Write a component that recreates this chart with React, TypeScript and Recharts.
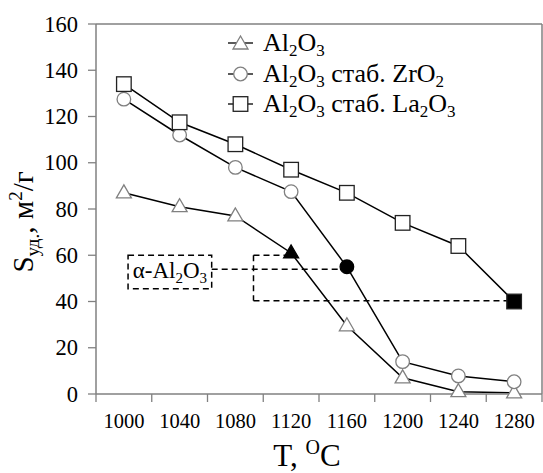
import React from "react";
import {
  LineChart, Line, XAxis, YAxis, ReferenceLine, ReferenceArea,
} from "recharts";

// температура прокаливания, °C
const temps = [1000, 1040, 1080, 1120, 1160, 1200, 1240, 1280];
// удельная поверхность, м2/г
const sAl2O3 = [87, 81, 77, 61, 29.5, 7, 1, 0.5];
const sAlZr = [127.5, 112, 98, 87.5, 55, 14, 7.8, 5.3];
const sAlLa = [134, 117.5, 108, 97, 87, 74, 64, 40];

// точка появления α-Al2O3 (залитый маркер)
const alphaAl = 1120;
const alphaZr = 1160;
const alphaLa = 1280;

const xTickMarks = [980, 1020, 1060, 1100, 1140, 1180, 1220, 1260, 1300];
const yTicks = [0, 20, 40, 60, 80, 100, 120, 140, 160];

// пунктирные выноски (в единицах данных)
const alphaBox = { x1: 1003, x2: 1063, y1: 45.5, y2: 60 };
const leaderZr = [{ x: 1063, y: 54 }, { x: 1160, y: 54 }];
const bracketTop = [{ x: 1093, y: 60 }, { x: 1118, y: 60 }];
const bracketSide = [{ x: 1093, y: 60 }, { x: 1093, y: 40.3 }];
const bracketBottom = [{ x: 1093, y: 40.3 }, { x: 1280, y: 40.3 }];

const data = temps.map((t, i) => ({ t, al: sAl2O3[i], zr: sAlZr[i], la: sAlLa[i] }));

const FONT = '"Liberation Serif"';
const AXIS = "#808080";
const DASH = "6 4";

type Shape = "tri" | "circ" | "sq";

function Marker({ shape, cx, cy, filled }: { shape: Shape; cx: number; cy: number; filled: boolean }) {
  const fill = filled ? "#000" : "#fff";
  if (shape === "tri") {
    return (
      <polygon points={`${cx},${cy - 8} ${cx - 7.5},${cy + 5} ${cx + 7.5},${cy + 5}`}
        fill={fill} stroke={filled ? "#000" : AXIS} strokeWidth={1.3} />
    );
  }
  if (shape === "circ") {
    return <circle cx={cx} cy={cy} r={6.8} fill={fill} stroke={filled ? "#000" : AXIS} strokeWidth={1.3} />;
  }
  return <rect x={cx - 7.3} y={cy - 7.3} width={14.6} height={14.6} fill={fill} stroke="#222" strokeWidth={1.3} />;
}

const makeDot = (shape: Shape, alphaT: number) => (props: any) => {
  const { cx, cy, payload, index } = props;
  if (cx == null || cy == null) return <g key={index} />;
  return (
    <g key={index}>
      <Marker shape={shape} cx={cx} cy={cy} filled={payload.t === alphaT} />
    </g>
  );
};

const XTick = (props: any) => {
  const { x, y, payload } = props;
  if (temps.includes(payload.value)) {
    return (
      <text x={x} y={y + 34} textAnchor="middle" style={{ fontFamily: FONT, fontSize: 20.5 }} fill="#000">
        {payload.value}
      </text>
    );
  }
  return <line x1={x} x2={x} y1={y} y2={y + 8} stroke={AXIS} strokeWidth={1.3} />;
};

const YTick = (props: any) => {
  const { x, y, payload } = props;
  return (
    <text x={x} y={y + 7.5} textAnchor="end" style={{ fontFamily: FONT, fontSize: 22.5 }} fill="#000">
      {payload.value}
    </text>
  );
};

const YLabel = (props: any) => {
  const { viewBox } = props;
  const x = viewBox.x + 33;
  const y = viewBox.y + viewBox.height / 2 + 13;
  return (
    <text x={x} y={y} textAnchor="middle" transform={`rotate(-90 ${x} ${y})`}
      style={{ fontFamily: FONT, fontSize: 29 }} fill="#000">
      <tspan>S</tspan>
      <tspan fontSize={19} dy={6}>уд.</tspan>
      <tspan dy={-6}>, м</tspan>
      <tspan fontSize={19} dy={-11}>2</tspan>
      <tspan dy={11}>/г</tspan>
    </text>
  );
};

const XLabel = (props: any) => {
  const { viewBox } = props;
  const x = viewBox.x + viewBox.width / 2 - 12;
  const y = viewBox.y + 72;
  return (
    <text x={x} y={y} textAnchor="middle" style={{ fontFamily: FONT, fontSize: 31 }} fill="#000">
      <tspan>T, </tspan>
      <tspan fontSize={20} dy={-12}>O</tspan>
      <tspan dy={12}>C</tspan>
    </text>
  );
};

const AlphaLabel = (props: any) => {
  const { viewBox } = props;
  const x = viewBox.x + viewBox.width / 2;
  const y = viewBox.y + viewBox.height / 2 + 6;
  return (
    <text x={x} y={y} textAnchor="middle" style={{ fontFamily: FONT, fontSize: 23 }} fill="#000">
      <tspan>α-Al</tspan>
      <tspan fontSize={15} dy={5}>2</tspan>
      <tspan dy={-5}>O</tspan>
      <tspan fontSize={15} dy={5}>3</tspan>
    </text>
  );
};

const legendRows: { shape: Shape; parts: [string, boolean][] }[] = [
  { shape: "tri", parts: [["Al", false], ["2", true], ["O", false], ["3", true]] },
  { shape: "circ", parts: [["Al", false], ["2", true], ["O", false], ["3", true], [" стаб. ZrO", false], ["2", true]] },
  { shape: "sq", parts: [["Al", false], ["2", true], ["O", false], ["3", true], [" стаб. La", false], ["2", true], ["O", false], ["3", true]] },
];

function LegendIcon({ shape }: { shape: Shape }) {
  return (
    <svg width={26} height={20} style={{ display: "block" }}>
      <line x1={0} x2={25} y1={10} y2={10} stroke="#000" strokeWidth={1.3} />
      <Marker shape={shape} cx={12.5} cy={shape === "tri" ? 11 : 10} filled={false} />
    </svg>
  );
}

export default function App() {
  return (
    <div style={{ position: "absolute", left: 0, top: 0, width: 543, height: 473, background: "#fff", fontFamily: FONT }}>
      <LineChart width={543} height={473} data={data} margin={{ top: 24, right: 1, bottom: 0, left: 0 }}
        style={{ fontFamily: FONT }}>
        <XAxis dataKey="t" type="number" domain={[980, 1300]}
          ticks={[...xTickMarks, ...temps].sort((a, b) => a - b)} interval={0}
          tick={<XTick />} tickLine={false} tickSize={0} tickMargin={0}
          height={79} stroke={AXIS} strokeWidth={1.5}
          label={<XLabel />} />
        <YAxis type="number" domain={[0, 160]} ticks={yTicks} interval={0}
          width={96} tickSize={8} tickMargin={10} stroke={AXIS} strokeWidth={1.5}
          tick={<YTick />}
          tickLine={{ stroke: AXIS, strokeWidth: 1.3 }}
          label={<YLabel />} />
        <ReferenceLine y={160} stroke={AXIS} strokeWidth={1.5} />
        <ReferenceLine x={1300} stroke={AXIS} strokeWidth={1.5} />

        <ReferenceArea x1={alphaBox.x1} x2={alphaBox.x2} y1={alphaBox.y1} y2={alphaBox.y2}
          fill="none" fillOpacity={0} stroke="#000" strokeWidth={1.5} strokeDasharray={DASH}
          label={<AlphaLabel />} />
        <ReferenceLine segment={leaderZr} stroke="#000" strokeWidth={1.5} strokeDasharray={DASH} />
        <ReferenceLine segment={bracketTop} stroke="#000" strokeWidth={1.5} strokeDasharray={DASH} />
        <ReferenceLine segment={bracketSide} stroke="#000" strokeWidth={1.5} strokeDasharray={DASH} />
        <ReferenceLine segment={bracketBottom} stroke="#000" strokeWidth={1.5} strokeDasharray={DASH} />

        <Line dataKey="al" type="linear" stroke="#000" strokeWidth={1.5}
          dot={makeDot("tri", alphaAl)} activeDot={false} isAnimationActive={false} />
        <Line dataKey="zr" type="linear" stroke="#000" strokeWidth={1.5}
          dot={makeDot("circ", alphaZr)} activeDot={false} isAnimationActive={false} />
        <Line dataKey="la" type="linear" stroke="#000" strokeWidth={1.5}
          dot={makeDot("sq", alphaLa)} activeDot={false} isAnimationActive={false} />
      </LineChart>

      {/* легенда */}
      <div style={{ position: "absolute", left: 228, top: 28, fontFamily: FONT, fontSize: 26, color: "#000" }}>
        {legendRows.map((row, i) => (
          <div key={i} style={{ display: "flex", alignItems: "center", height: 30.5 }}>
            <LegendIcon shape={row.shape} />
            <span style={{ marginLeft: 9, whiteSpace: "nowrap", lineHeight: "24px" }}>
              {row.parts.map(([txt, sub], j) =>
                sub ? <sub key={j} style={{ fontSize: 17, verticalAlign: "-5px", lineHeight: 0 }}>{txt}</sub>
                  : <span key={j}>{txt}</span>)}
            </span>
          </div>
        ))}
      </div>
    </div>
  );
}
